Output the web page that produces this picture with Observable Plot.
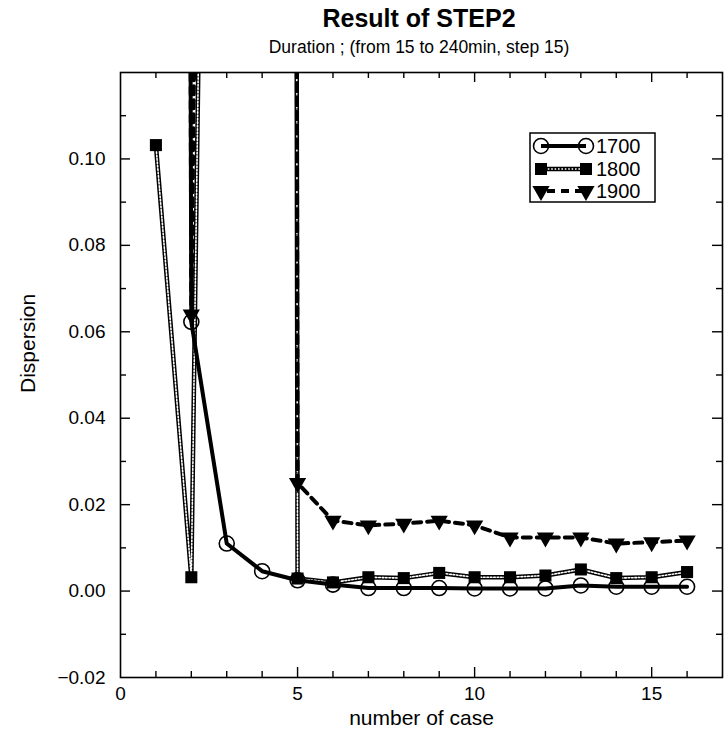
<!DOCTYPE html>
<html><head><meta charset="utf-8">
<script src="https://cdn.jsdelivr.net/npm/d3@7"></script>
<script src="https://cdn.jsdelivr.net/npm/@observablehq/plot@0.6"></script>
<style>
body{margin:0;background:#fff;font-family:"Liberation Sans",Arial,Helvetica,sans-serif;color:#000;}
#wrap{position:relative;width:728px;height:742px;overflow:hidden;}
#head{position:relative;height:62px;}
#title{position:absolute;left:0;width:838px;top:3px;text-align:center;font-weight:bold;font-size:25px;line-height:30px;}
#subtitle{position:absolute;left:0;width:838px;top:36px;text-align:center;font-size:17.5px;line-height:22px;}
#legend{position:absolute;left:0;top:0;pointer-events:none;}
</style></head>
<body>
<div id="wrap">
  <div id="head"><div id="title">Result of STEP2</div><div id="subtitle">Duration ; (from 15 to 240min, step 15)</div></div>
  <div id="chart"></div>
  <svg id="legend" width="728" height="742"></svg>
</div>
<script>
// ---- data ----
const cases = [1,2,3,4,5,6,7,8,9,10,11,12,13,14,15,16];
const s1700 = [3, 0.0623, 0.011, 0.0046, 0.0025, 0.0015, 0.0007, 0.0007, 0.0007, 0.0006, 0.0006, 0.0006, 0.0013, 0.0010, 0.0010, 0.0010];
const s1800 = [0.1032, 0.0032, 0.6, 5, 0.0029, 0.0020, 0.0032, 0.0030, 0.0042, 0.0032, 0.0032, 0.0036, 0.0050, 0.0030, 0.0032, 0.0044];
const s1900 = [3, 0.064, 0.8, 5, 0.025, 0.0163, 0.0152, 0.0156, 0.0163, 0.0152, 0.0124, 0.0124, 0.0124, 0.0110, 0.0113, 0.0117];
const seriesNames = ["1700", "1800", "1900"];
const xTickLabels = [0, 5, 10, 15];
const yTickLabels = [-0.02, 0.00, 0.02, 0.04, 0.06, 0.08, 0.10];
const xMinorTicks = [1,2,3,4,6,7,8,9,11,12,13,14,16];
const xMajorTicks = [5,10,15];
const yMinorTicks = [-0.01, 0.01, 0.03, 0.05, 0.07, 0.09, 0.11];
const yMajorTicks = [0.00, 0.02, 0.04, 0.06, 0.08, 0.10];

const table = {"1700": s1700, "1800": s1800, "1900": s1900};
const rows = name => cases.map((c, i) => ({x: c, y: table[name][i], series: name}));
const d1700 = rows("1700"), d1800 = rows("1800"), d1900 = rows("1900");

const W = 728, H = 680, mT = 10, mB = 65, mL = 120, mR = 6;
const pW = W - mL - mR, pH = H - mT - mB;
const minorLen = 6, majorLen = 10;

const chart = Plot.plot({
  width: W, height: H,
  marginTop: mT, marginBottom: mB, marginLeft: mL, marginRight: mR,
  style: {fontFamily: '"Liberation Sans", Arial, Helvetica, sans-serif', fontSize: "19px", color: "#000", background: "#fff"},
  x: {domain: [0, 17]},
  y: {domain: [-0.02, 0.12]},
  marks: [
    // inward ticks on all four sides
    Plot.tickX(xMinorTicks, {x: d => d, insetTop: pH - minorLen, stroke: "#000", strokeWidth: 1.4}),
    Plot.tickX(xMajorTicks, {x: d => d, insetTop: pH - majorLen, stroke: "#000", strokeWidth: 1.4}),
    Plot.tickX(xMinorTicks, {x: d => d, insetBottom: pH - minorLen, stroke: "#000", strokeWidth: 1.4}),
    Plot.tickX(xMajorTicks, {x: d => d, insetBottom: pH - majorLen, stroke: "#000", strokeWidth: 1.4}),
    Plot.tickY(yMinorTicks, {y: d => d, insetRight: pW - minorLen, stroke: "#000", strokeWidth: 1.4}),
    Plot.tickY(yMajorTicks, {y: d => d, insetRight: pW - majorLen, stroke: "#000", strokeWidth: 1.4}),
    Plot.tickY(yMinorTicks, {y: d => d, insetLeft: pW - minorLen, stroke: "#000", strokeWidth: 1.4}),
    Plot.tickY(yMajorTicks, {y: d => d, insetLeft: pW - majorLen, stroke: "#000", strokeWidth: 1.4}),
    Plot.axisX({ticks: xTickLabels, tickSize: 0, tickPadding: 9, label: null, fontSize: 19}),
    Plot.axisY({ticks: yTickLabels, tickSize: 0, tickPadding: 15, label: null, fontSize: 19, tickFormat: d3.format(".2f")}),
    Plot.text(["Dispersion"], {frameAnchor: "left", rotate: -90, dx: -92, dy: 18, fontSize: 21}),
    Plot.text(["number of case"], {frameAnchor: "bottom", dy: 47, fontSize: 21}),
    // series lines
    Plot.line(d1800, {x: "x", y: "y", stroke: "#000", strokeWidth: 4.5, clip: true}),
    Plot.line(d1800, {x: "x", y: "y", stroke: "#fff", strokeWidth: 1.6, strokeDasharray: "1.6,1.8", clip: true}),
    Plot.line(d1900, {x: "x", y: "y", stroke: "#000", strokeWidth: 4, strokeDasharray: "8,6", clip: true}),
    Plot.line(d1700, {x: "x", y: "y", stroke: "#000", strokeWidth: 4, clip: true}),
    // markers
    Plot.dot(d1700, {x: "x", y: "y", symbol: "circle", r: 7.5, fill: "none", stroke: "#000", strokeWidth: 1.6, clip: true}),
    Plot.dot(d1800, {x: "x", y: "y", symbol: "square", r: 6.8, fill: "#000", stroke: "none", clip: true}),
    Plot.dot(d1900, {x: "x", y: "y", symbol: "triangle", rotate: 180, r: 6.4, fill: "#000", stroke: "none", clip: true}),
    Plot.frame({stroke: "#000", strokeWidth: 1.6})
  ]
});
document.getElementById("chart").appendChild(chart);

// ---- legend (drawn with d3, overlay) ----
const lg = d3.select("#legend");
const box = {x: 530, y: 133, w: 125, h: 69};
lg.append("rect").attr("x", box.x).attr("y", box.y).attr("width", box.w).attr("height", box.h)
  .attr("fill", "#fff").attr("stroke", "#000").attr("stroke-width", 1.5);
const rowY = [146, 169, 191];
const x0 = 541, x1 = 586, tx = 596;
seriesNames.forEach((name, i) => {
  const y = rowY[i];
  const g = lg.append("g");
  if (name === "1700") {
    g.append("line").attr("x1", x0).attr("x2", x1).attr("y1", y).attr("y2", y).attr("stroke", "#000").attr("stroke-width", 4);
    [x0, x1].forEach(cx => g.append("circle").attr("cx", cx).attr("cy", y).attr("r", 7.5).attr("fill", "none").attr("stroke", "#000").attr("stroke-width", 1.6));
  } else if (name === "1800") {
    g.append("line").attr("x1", x0).attr("x2", x1).attr("y1", y).attr("y2", y).attr("stroke", "#000").attr("stroke-width", 4.5);
    g.append("line").attr("x1", x0).attr("x2", x1).attr("y1", y).attr("y2", y).attr("stroke", "#fff").attr("stroke-width", 1.6).attr("stroke-dasharray", "1.6,1.8");
    [x0, x1].forEach(cx => g.append("rect").attr("x", cx - 6).attr("y", y - 6).attr("width", 12).attr("height", 12).attr("fill", "#000"));
  } else {
    g.append("line").attr("x1", x0).attr("x2", x1).attr("y1", y).attr("y2", y).attr("stroke", "#000").attr("stroke-width", 4).attr("stroke-dasharray", "8,6").attr("stroke-dashoffset", -6);
    const tri = d3.symbol(d3.symbolTriangle, Math.PI * 6.4 * 6.4);
    [x0, x1].forEach(cx => g.append("path").attr("d", tri()).attr("transform", `translate(${cx},${y}) rotate(180)`).attr("fill", "#000"));
  }
  g.append("text").attr("x", tx).attr("y", y).attr("dy", "0.36em").attr("font-size", 20)
    .attr("font-family", '"Liberation Sans", Arial, sans-serif').text(name);
});
</script>
</body></html>
